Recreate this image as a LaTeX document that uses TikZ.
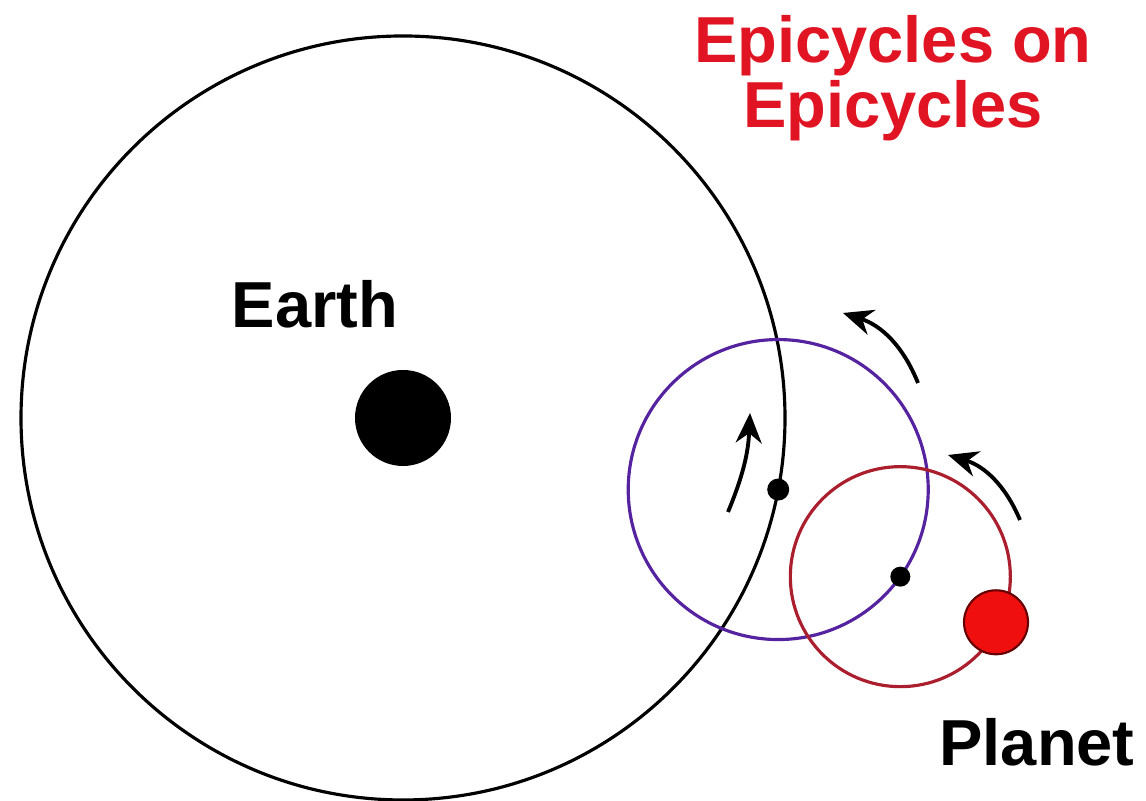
\documentclass[tikz,border=0pt]{standalone}
\usepackage{xcolor}
\usepackage{tikz}
\usepackage{fontspec}
\setmainfont{Liberation Sans}
\usetikzlibrary{arrows.meta}
\definecolor{epipurple}{RGB}{85, 35, 160}
\definecolor{epired}{RGB}{170, 30, 45}
\definecolor{titlered}{RGB}{225, 20, 35}
\definecolor{planetred}{RGB}{240, 15, 15}

\begin{document}
\begin{tikzpicture}[
	dot/.style={circle, fill=black, inner sep=0pt, minimum size=#1},
	motion/.style={line width=1.1pt, -{Stealth[length=0.3cm, width=0.26cm]}, bend right=#1},
	wordtext/.style={inner sep=0pt, font=\fontsize{18.5}{18.5}\selectfont\bfseries}
]
					\useasboundingbox (0,0) rectangle (11.46,8.01);
					\coordinate (earthc) at (4.03,3.83);
					\draw[line width=0.9pt] (earthc) circle (3.82);
					\node[dot=0.96cm] (earth) at (earthc) {};
					\coordinate (defc) at ([shift={(-10.8:3.82)}]earthc);
					\draw[epipurple, line width=0.9pt] (defc) circle (1.5);
					\coordinate (epic) at ([shift={(-35.5:1.5)}]defc);
					\draw[epired, line width=0.9pt] (epic) circle (1.1);
					\node[dot=0.22cm] (def) at (defc) {};
					\node[dot=0.2cm] (epi) at (epic) {};
					\node[dot=0.64cm, fill=planetred, draw=black!60!red, line width=0.6pt] (planet) at ([shift={(-25.5:1.06)}]epic) {};
					\coordinate (a1) at (7.28,2.89);
					\coordinate (b1) at (7.50,3.88);
					\draw[motion=10] (a1) to (b1);
					\coordinate (a2) at (9.18,4.18);
					\coordinate (b2) at (8.43,4.88);
					\draw[motion=25] (a2) to (b2);
					\coordinate (a3) at (10.20,2.81);
					\coordinate (b3) at (9.48,3.46);
					\draw[motion=25] (a3) to (b3);
					\node[wordtext] (earthlabel) at (3.15,4.97) {Earth};
					\node[wordtext, text=titlered, align=center, anchor=north] (title) at (8.93,7.86) {Epicycles on\\Epicycles};
					\node[wordtext] (planetlabel) at (10.37,0.59) {Planet};
				\end{tikzpicture}
\end{document}
